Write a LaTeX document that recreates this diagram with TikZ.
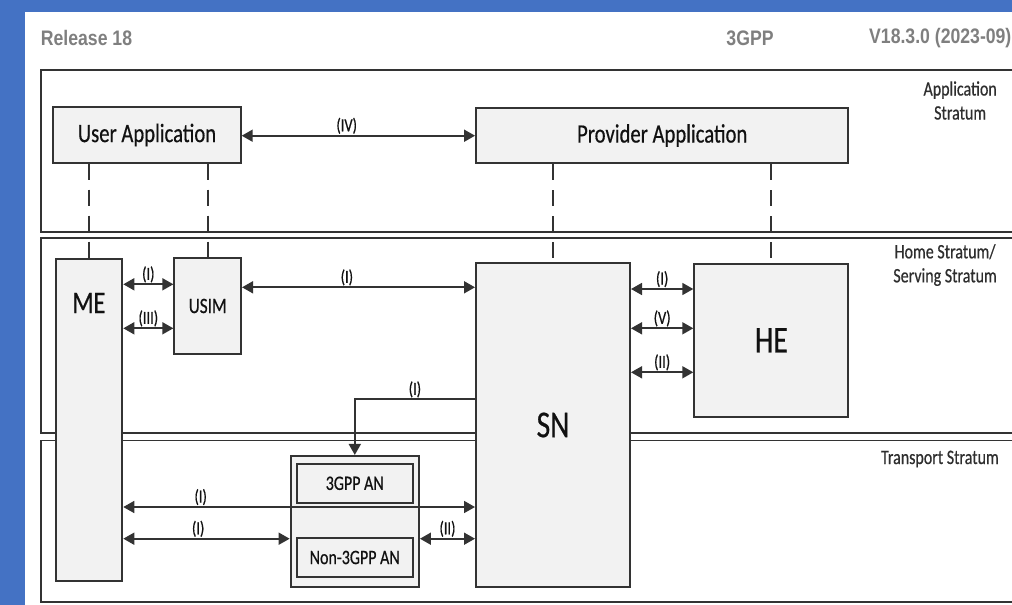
\documentclass[tikz,border=0pt]{standalone}
\usepackage{fontspec}
\usepackage{graphicx}
\usetikzlibrary{arrows.meta}

% Narrow faces used in the figure
\newfontfamily\diafont[FakeStretch=0.78,FakeBold=0.5]{Carlito}
\newfontfamily\hdrfont[FakeStretch=0.84]{Liberation Sans}

\definecolor{pageblue}{HTML}{4472C4}
\definecolor{linegray}{HTML}{333333}
\definecolor{boxfill}{HTML}{F2F2F2}
\definecolor{hdrgray}{HTML}{7F7F7F}
\definecolor{inkgray}{HTML}{111111}
\definecolor{stratumink}{HTML}{2E2E2E}

\tikzset{
  frame/.style={draw=linegray, line width=1.9pt},
  box/.style={draw=linegray, line width=2pt, fill=boxfill, inner sep=0pt,
              text=inkgray, font=\diafont\fontsize{26.5}{30}\selectfont},
  link/.style={draw=linegray, line width=1.7pt,
               {Triangle[length=11pt,width=12pt]}-{Triangle[length=11pt,width=12pt]}},
  oneway/.style={draw=linegray, line width=1.7pt, -{Triangle[length=11pt,width=12pt]}},
  tie/.style={draw=linegray, line width=1.8pt, dash pattern=on 16pt off 10pt},
  tag/.style={font=\diafont\fontsize{18.5}{22}\selectfont, text=inkgray,
              inner sep=1pt, anchor=south},
  stratum/.style={font=\diafont\fontsize{20.5}{24}\selectfont, text=stratumink,
                  align=center, anchor=east, inner sep=0pt},
  header/.style={font=\hdrfont\bfseries\fontsize{21}{24}\selectfont, text=hdrgray,
                 inner sep=0pt}
}

\begin{document}
\begin{tikzpicture}[x=1pt, y=-1pt]
  \useasboundingbox (0,0) rectangle (1012,605);
  \clip (0,0) rectangle (1012,605);

  % page on blue background
  \fill[pageblue] (0,0) rectangle (1012,605);
  \fill[white] (25,12) rectangle (1012,605);

  % page header
  \node[header] (rel) at (86.5,38) {Release 18};
  \node[header] (org) at (750,38) {3GPP};
  \node[header, anchor=west] (ver) at (869,38) {V18.3.0 (2023-09)};

  % strata frames
  \draw[frame] (41,70) rectangle (1018,231.7);
  \draw[frame] (41,238.3) rectangle (1018,432.7);
  \draw[frame] (41,440.5) rectangle (1018,602);

  \node[stratum] (stApp) at (997,100.5) {Application\\Stratum};
  \node[stratum] (stHome) at (997,265) {Home Stratum/\\Serving Stratum};
  \node[stratum] (stTrans) at (999,459) {Transport Stratum};

  % application stratum
  \node[box, minimum width=187.4pt, minimum height=55.4pt] (ua) at (147,135) {User Application};
  \node[box, minimum width=372.3pt, minimum height=55pt] (pa) at (662.2,135.5) {Provider Application};

  % home / serving stratum
  \node[box, minimum width=66.6pt, minimum height=322pt] (me) at (89,420) {};
  \node[text=inkgray, font=\diafont\fontsize{31.5}{34}\selectfont, inner sep=0pt] (metext) at (89,303) {ME};
  \node[box, minimum width=66.7pt, minimum height=96.6pt,
        font=\diafont\fontsize{22}{26}\selectfont] (usim) at (207.7,306) {USIM};
  \node[box, minimum width=154pt, minimum height=323.4pt,
        font=\diafont\fontsize{38}{42}\selectfont] (sn) at (553,425) {SN};
  \node[box, minimum width=154pt, minimum height=152.7pt,
        font=\diafont\fontsize{38}{42}\selectfont] (he) at (771.3,340.3) {HE};

  % access networks
  \node[box, minimum width=128.3pt, minimum height=130.7pt] (an) at (354.8,521.3) {};
  \node[box, minimum width=116pt, minimum height=38.7pt,
        font=\diafont\fontsize{20.5}{24}\selectfont] (an3) at (354.7,483.3) {3GPP AN};
  \node[box, minimum width=116pt, minimum height=39.6pt,
        font=\diafont\fontsize{20.5}{24}\selectfont] (ann) at (354.7,557.5) {Non-3GPP AN};

  % dashed ties between strata
  \draw[tie] (ua.south -| me.north) -- (me.north);
  \draw[tie] (ua.south -| usim.north) -- (usim.north);
  \draw[tie] (pa.south -| sn.north) -- (sn.north);
  \draw[tie] (pa.south -| he.north) -- (he.north);

  % levels of the interface arrows
  \coordinate (yIV) at (0,135.7);
  \coordinate (yMU1) at (0,284.3);
  \coordinate (yMU3) at (0,328.3);
  \coordinate (yUS) at (0,287.3);
  \coordinate (ySH1) at (0,289);
  \coordinate (ySH5) at (0,328.3);
  \coordinate (ySH2) at (0,372.3);
  \coordinate (ySA) at (0,399.3);
  \coordinate (yMS) at (0,507);
  \coordinate (yMA) at (0,538.7);

  % interfaces
  \draw[link] (ua.east |- yIV) -- node[tag, pos=0.45] {(IV)} (pa.west |- yIV);
  \draw[link] (me.east |- yMU1) -- node[tag] {(I)} (usim.west |- yMU1);
  \draw[link] (me.east |- yMU3) -- node[tag] {(III)} (usim.west |- yMU3);
  \draw[link] (usim.east |- yUS) -- node[tag, pos=0.45] {(I)} (sn.west |- yUS);
  \draw[link] (sn.east |- ySH1) -- node[tag] {(I)} (he.west |- ySH1);
  \draw[link] (sn.east |- ySH5) -- node[tag] {(V)} (he.west |- ySH5);
  \draw[link] (sn.east |- ySH2) -- node[tag] {(II)} (he.west |- ySH2);
  \draw[oneway] (sn.west |- ySA) -| node[tag, pos=0.25] {(I)} (an.north);
  \draw[link] (me.east |- yMS) -- node[tag, pos=0.22] {(I)} (sn.west |- yMS);
  \draw[link] (me.east |- yMA) -- node[tag, pos=0.45] {(I)} (an.west |- yMA);
  \draw[link] (an.east |- yMA) -- node[tag] {(II)} (sn.west |- yMA);
\end{tikzpicture}
\end{document}
